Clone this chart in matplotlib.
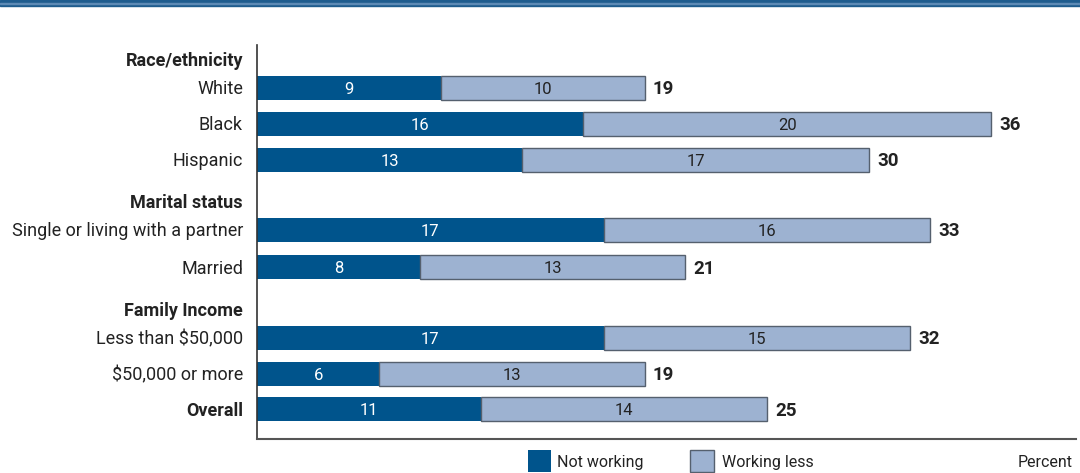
import matplotlib
matplotlib.use("Agg")
import matplotlib.pyplot as plt
from matplotlib.patches import Rectangle
from matplotlib import font_manager

# ---- data ----
categories = ["White", "Black", "Hispanic",
              "Single or living with a partner", "Married",
              "Less than $50,000", "$50,000 or more", "Overall"]
groups = ["Race/ethnicity", "Marital status", "Family Income"]
not_working = [9, 16, 13, 17, 8, 17, 6, 11]
working_less = [10, 20, 17, 16, 13, 15, 13, 14]
totals = [19, 36, 30, 33, 21, 32, 19, 25]
legend_labels = ["Not working", "Working less"]
unit_label = "Percent"

# ---- style / layout ----
W, H = 1080, 473
DARK = "#00548c"
LIGHT = "#9db2d1"
EDGE = "#55606e"
TEXT = "#222222"

avail = {f.name for f in font_manager.fontManager.ttflist}
fam = ["Liberation Sans Narrow", "DejaVu Sans"] if "Liberation Sans Narrow" in avail else ["Roboto", "DejaVu Sans"]
plt.rcParams["font.family"] = fam

fig = plt.figure(figsize=(W / 100, H / 100), dpi=100)

ax_left, ax_right, ax_top, ax_bottom = 257, 1076, 45, 439
ax = fig.add_axes([ax_left / W, 1 - ax_bottom / H, (ax_right - ax_left) / W, (ax_bottom - ax_top) / H])
px_per_unit = 20.4
ax.set_xlim(0, (ax_right - ax_left) / px_per_unit)
ax.set_ylim(ax_bottom, ax_top)  # y in pixel rows, inverted

bar_y = [88, 124, 160, 230, 267, 338, 374, 409]
header_y = [60, 202, 309]
bar_h = 24
dy = 1.5  # text vertical nudge

ax.barh(bar_y, not_working, height=bar_h, color=DARK, edgecolor="none")
ax.barh(bar_y, working_less, left=not_working, height=bar_h, color=LIGHT, edgecolor=EDGE, linewidth=1.0)

for y, a, b, t in zip(bar_y, not_working, working_less, totals):
    ax.text(a / 2, y + dy, str(a), ha="center", va="center", color="white", fontsize=12)
    ax.text(a + b / 2, y + dy, str(b), ha="center", va="center", color=TEXT, fontsize=12)
    ax.text(a + b + 0.4, y + dy, str(t), ha="left", va="center", color=TEXT, fontsize=13.5, fontweight="bold")

label_x = -14 / px_per_unit
for y, c in zip(bar_y, categories):
    bold = c == "Overall"
    ax.text(label_x, y + dy, c, ha="right", va="center", color=TEXT, fontsize=13,
            fontweight="bold" if bold else "normal", clip_on=False)
for y, g in zip(header_y, groups):
    ax.text(label_x, y + dy, g, ha="right", va="center", color=TEXT, fontsize=13,
            fontweight="bold", clip_on=False)

for s in ["top", "right"]:
    ax.spines[s].set_visible(False)
ax.spines["left"].set_color("#333333")
ax.spines["bottom"].set_color("#555555")
ax.spines["left"].set_linewidth(1.2)
ax.spines["bottom"].set_linewidth(1.5)
ax.set_xticks([])
ax.set_yticks([])

# top decorative band
fig.patches.append(Rectangle((0, 1 - 6 / H), 1, 6 / H, transform=fig.transFigure, color="#1f5c8e", zorder=0))
fig.patches.append(Rectangle((0, 1 - 3.6 / H), 1, 1.0 / H, transform=fig.transFigure, color="#5d8ab5", zorder=1))

# legend
ly = 1 - 462 / H
fig.patches.append(Rectangle((528 / W, 1 - 472 / H), 23 / W, 22 / H, transform=fig.transFigure,
                             facecolor=DARK, edgecolor="none"))
fig.text(557 / W, ly, legend_labels[0], ha="left", va="center", color=TEXT, fontsize=11.5)
fig.patches.append(Rectangle((690 / W, 1 - 472 / H), 24 / W, 22 / H, transform=fig.transFigure,
                             facecolor=LIGHT, edgecolor=EDGE, linewidth=1.0))
fig.text(722 / W, ly, legend_labels[1], ha="left", va="center", color=TEXT, fontsize=11.5)
fig.text(1073 / W, ly, unit_label, ha="right", va="center", color=TEXT, fontsize=11.5)

fig.savefig("out.png", dpi=100)
